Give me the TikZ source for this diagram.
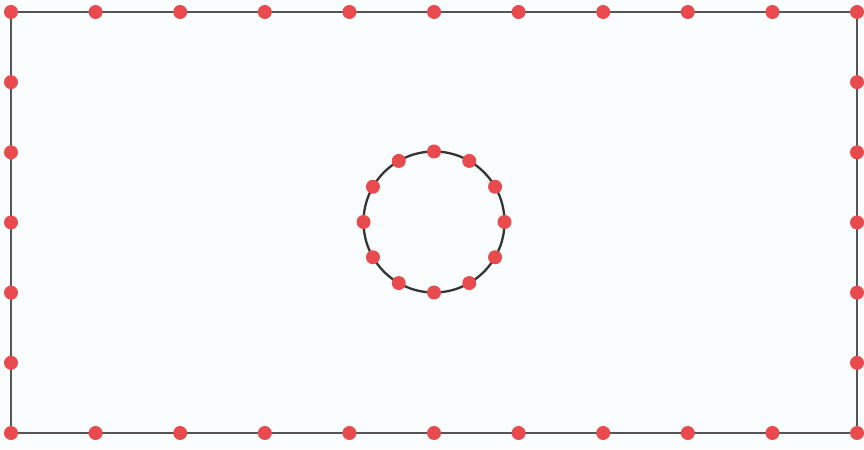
\documentclass[tikz,border=0pt]{standalone}
\usepackage{xcolor}
\usepackage{tikz}
\usetikzlibrary{backgrounds, calc}
\definecolor{dotred}{HTML}{E84A4D}
\definecolor{edgegray}{HTML}{555555}
\definecolor{ringgray}{HTML}{333333}
\definecolor{paper}{HTML}{F9FDFE}

\begin{document}
\begin{tikzpicture}[
  x=0.02cm, y=0.02cm,
  mesh/.style={circle, fill=dotred, draw=none, inner sep=0pt, minimum size=0.28cm},
  border/.style={edgegray, line width=0.9pt},
  hole/.style={ringgray, line width=1.3pt}
]
  \fill[paper] (0,0) rectangle (864,449);
  \useasboundingbox (0,0) rectangle (864,449);

  % outer boundary and hole
  \draw[border] (11,16) rectangle (857,437);
  \draw[hole] (434,227) circle (70.5);

  % nodes on top and bottom edges
  \foreach \i in {0,...,10} {
    \node[mesh] (b\i) at ({11+84.6*\i},16) {};
    \node[mesh] (t\i) at ({11+84.6*\i},437) {};
  }
  % nodes on left and right edges
  \foreach \j in {1,...,5} {
    \node[mesh] (l\j) at (11,{16+70.17*\j}) {};
    \node[mesh] (r\j) at (857,{16+70.17*\j}) {};
  }
  % nodes on the hole
  \foreach \k in {0,...,11} {
    \node[mesh] (h\k) at ($(434,227)+({30*\k}:70.5)$) {};
  }
\end{tikzpicture}
\end{document}
